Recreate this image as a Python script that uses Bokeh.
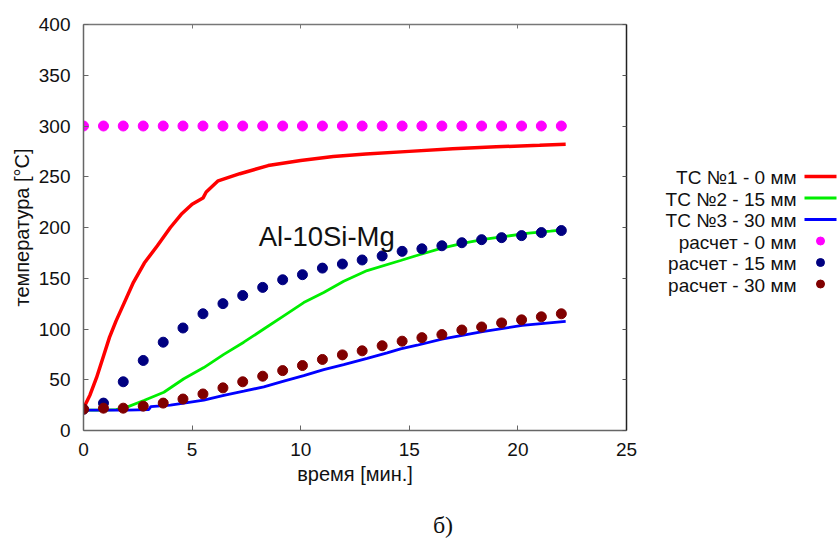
from bokeh.plotting import figure
from bokeh.layouts import row, column
from bokeh.models import Range1d, LinearAxis, Label, CustomJSTickFormatter, SingleIntervalTicker
from bokeh.embed import file_html
from bokeh.resources import INLINE
from bokeh.core.properties import value

# ---------------- data ----------------
calc_x = [0.0, 0.92, 1.83, 2.75, 3.67, 4.58, 5.5, 6.42, 7.33, 8.25, 9.17, 10.08, 11.0,
          11.92, 12.83, 13.75, 14.67, 15.58, 16.5, 17.42, 18.33, 19.25, 20.17, 21.08, 22.0]
calc_0mm = [300] * 25
calc_15mm = [21, 27, 48, 69, 87, 101, 115, 125, 133, 141, 148.5, 153.5, 160, 164, 168,
             172, 176.5, 179, 182, 185, 188, 190, 192, 195, 197]
calc_30mm = [21, 22, 22, 24, 27, 31, 36, 42, 48, 53.5, 59, 64, 70, 74.5, 78.5, 83.5, 88,
             91.5, 94.5, 99, 102, 106, 109, 112, 115]

tc1_x = [0, 0.3, 0.6, 0.9, 1.2, 1.5, 1.9, 2.3, 2.8, 3.4, 4.0, 4.5, 5.0, 5.5, 5.65, 6.2,
         7.2, 8.5, 10, 11.5, 13, 15, 17, 19, 21, 22.2]
tc1_y = [22, 35, 52, 72, 92, 108, 127, 146, 165, 182, 200, 213, 223, 229, 235, 246,
         253, 261, 266, 270, 272.5, 275, 277.5, 279.5, 281, 282]

tc2_x = [0, 1.0, 1.5, 2.0, 2.78, 3.7, 4.62, 5.54, 6.46, 7.38, 8.3, 9.22, 10.14, 11.06,
         11.98, 13.06, 14.6, 15.5, 16.5, 17.5, 18.5, 19.5, 20.5, 21.5, 22.2]
tc2_y = [20, 20, 20.5, 23, 29.5, 37.7, 51, 62, 75, 87, 100, 113, 126, 136, 147, 157.6,
         167.5, 173.4, 179.6, 184.5, 188.5, 191.5, 194.5, 196.5, 198]

tc3_x = [0, 1, 2, 3.0, 3.1, 4.0, 4.62, 5.54, 6.46, 7.38, 8.3, 9.22, 10.14, 11.06, 11.98,
         13.06, 13.98, 14.6, 15.36, 16.5, 18.37, 20.2, 22.2]
tc3_y = [20, 20, 20, 20.5, 23.5, 25, 27, 30, 34.5, 38.7, 43, 48.6, 54, 60, 65, 71, 76.5,
         80.5, 84, 90, 97.5, 103.5, 107.5]

legend_labels = ["ТС №1 - 0 мм", "ТС №2 - 15 мм", "ТС №3 - 30 мм",
                 "расчет - 0 мм", "расчет - 15 мм", "расчет - 30 мм"]
alloy = "Al-10Si-Mg"
caption = "б)"
x_title = "время [мин.]"
y_title = "температура [°C]"

RED, GREEN, BLUE = "#ff0000", "#00ee00", "#0000ff"
MAGENTA, NAVY, MAROON = "#ff00ff", "#000080", "#800000"
FONT = "Liberation Sans"

# layout (pixels)
BL, BT, FW, FH, BR = 83, 24, 543, 406, 12
TOTAL_W, TOTAL_H = 839, 543
TOP_H = 495                      # height of plot + legend row
BB = TOP_H - BT - FH
CAP_H = TOTAL_H - TOP_H          # caption strip

# ---------------- main plot ----------------
p = figure(frame_width=FW, frame_height=FH, min_border_left=BL, min_border_top=BT,
           min_border_bottom=BB, min_border_right=BR, title=None,
           x_range=Range1d(0, 25), y_range=Range1d(0, 400),
           toolbar_location=None, output_backend="svg")
p.grid.visible = False
p.outline_line_color = None

p.line(tc1_x, tc1_y, color=RED, line_width=3.5)
p.line(tc2_x, tc2_y, color=GREEN, line_width=2.8)
p.line(tc3_x, tc3_y, color=BLUE, line_width=2.8)
p.scatter(calc_x, calc_0mm, size=10, color=MAGENTA)
p.scatter(calc_x, calc_15mm, size=10, color=NAVY)
p.scatter(calc_x, calc_30mm, size=10, color=MAROON)

p.xaxis.ticker = SingleIntervalTicker(interval=5)
p.yaxis.ticker = SingleIntervalTicker(interval=50)

for ax in (p.xaxis[0], p.yaxis[0]):
    ax.major_tick_in = 5
    ax.major_tick_out = 0
    ax.minor_tick_line_color = None
    ax.axis_line_color = "#666666"
    ax.major_tick_line_color = "#666666"
    ax.axis_line_width = 1.5
    ax.major_label_text_font = FONT
    ax.major_label_text_font_size = "19px"
    ax.major_label_text_color = "#111111"
    ax.axis_label_text_font = FONT
    ax.axis_label_text_font_size = "20px"
    ax.axis_label_text_font_style = "normal"
    ax.axis_label_text_color = "#111111"

p.xaxis.axis_label = x_title
p.yaxis.axis_label = y_title
p.xaxis.major_label_standoff = 8
p.yaxis.major_label_standoff = 9
p.xaxis.axis_label_standoff = 4
p.yaxis.axis_label_standoff = 3

empty = CustomJSTickFormatter(code="return '';")
top = LinearAxis(ticker=SingleIntervalTicker(interval=5), formatter=empty,
                 major_tick_in=4, major_tick_out=0, minor_tick_line_color=None,
                 axis_line_color="#777777", major_tick_line_color="#777777",
                 axis_line_width=1.5, major_label_standoff=0)
right = LinearAxis(ticker=SingleIntervalTicker(interval=50), formatter=empty,
                   major_tick_in=4, major_tick_out=0, minor_tick_line_color=None,
                   axis_line_color="#222222", major_tick_line_color="#555555",
                   axis_line_width=1.5, major_label_standoff=0)
p.add_layout(top, "above")
p.add_layout(right, "right")

p.add_layout(Label(x=8.07, y=191, text=alloy, text_font=FONT,
                   text_font_size="27.5px", text_color="#111111",
                   text_align="left", text_baseline="alphabetic"))

# ---------------- legend panel ----------------
main_w = BL + FW + BR
leg_w = TOTAL_W - main_w
leg = figure(frame_width=leg_w, frame_height=FH, min_border_left=0, min_border_right=0,
             min_border_top=BT, min_border_bottom=BB, title=None,
             x_range=Range1d(main_w, TOTAL_W), y_range=Range1d(BT + FH, BT),
             x_axis_type=None, y_axis_type=None,
             toolbar_location=None, output_backend="svg")
leg.outline_line_color = None

row_y = [176 + 21.5 * i for i in range(6)]
leg.text(x=[796] * 6, y=[v + 1 for v in row_y], text=legend_labels, text_font=value(FONT),
         text_font_size="19px", text_align="right", text_baseline="middle",
         text_color="#111111")
for i, c in enumerate([RED, GREEN, BLUE]):
    leg.line([804, 836], [row_y[i], row_y[i]], color=c, line_width=3.5 if i == 0 else 2.8)
leg.scatter([820, 820, 820], row_y[3:], size=8, color=[MAGENTA, NAVY, MAROON])

# ---------------- caption strip ----------------
cap = figure(frame_width=TOTAL_W, frame_height=CAP_H, min_border=0, title=None,
             x_range=Range1d(0, TOTAL_W), y_range=Range1d(TOTAL_H, TOP_H),
             x_axis_type=None, y_axis_type=None,
             toolbar_location=None, output_backend="svg")
cap.outline_line_color = None
cap.text(x=[442.5], y=[524], text=[caption], text_font=value("Liberation Serif"),
         text_font_size="24px", text_align="center", text_baseline="alphabetic",
         text_color="#111111")

layout = column(row(p, leg, spacing=0), cap, spacing=0)
open("out.html", "w").write(file_html(layout, INLINE))
